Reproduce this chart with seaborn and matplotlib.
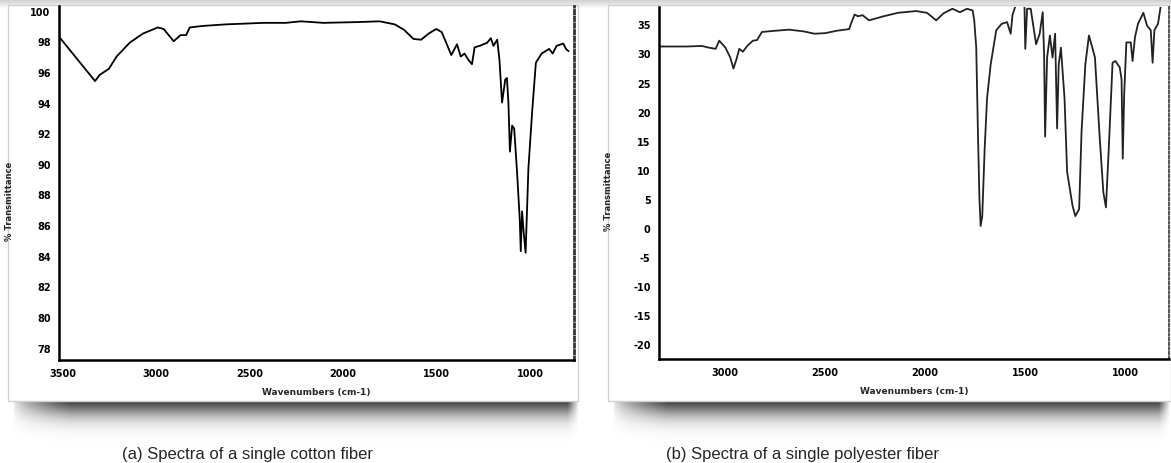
"""
FTIR spectra of single cotton and polyester fibers
"""
import numpy as np
import pandas as pd
import matplotlib
matplotlib.use('Agg')
import matplotlib.pyplot as plt
import seaborn as sns
from matplotlib.ticker import MultipleLocator

W, H = 1171, 464

# 1. DATA
cotton_wn = [3521, 3328, 3304, 3254, 3213, 3143, 3072, 2992, 2961, 2907, 2871, 2841,
             2821, 2751, 2629, 2428, 2307, 2227, 2106, 1925, 1805, 1724, 1675, 1624,
             1583, 1543, 1502, 1473, 1442, 1422, 1391, 1371, 1351, 1331, 1311, 1297,
             1270, 1230, 1210, 1196, 1176, 1164, 1150, 1133, 1124, 1116, 1108, 1096,
             1085, 1069, 1055, 1050, 1043, 1034, 1024, 1009, 989, 969, 938, 898,
             879, 858, 822, 808, 794]
cotton_t = [98.3, 95.4, 95.8, 96.2, 97.0, 97.9, 98.5, 98.9, 98.8, 98.0, 98.4, 98.4,
            98.9, 99.0, 99.1, 99.2, 99.2, 99.3, 99.2, 99.25, 99.3, 99.1, 98.75, 98.15,
            98.1, 98.5, 98.8, 98.6, 97.7, 97.1, 97.8, 97.0, 97.2, 96.8, 96.5, 97.6,
            97.7, 97.9, 98.2, 97.7, 98.1, 96.8, 94.0, 95.5, 95.6, 94.0, 90.8, 92.5,
            92.3, 89.3, 86.3, 84.3, 86.9, 85.5, 84.2, 89.7, 93.4, 96.6, 97.2, 97.5,
            97.2, 97.7, 97.85, 97.5, 97.35]

poly_wn = [3324, 3187, 3115, 3080, 3046, 3028, 2997, 2973, 2957, 2942, 2928, 2910,
           2888, 2860, 2839, 2815, 2752, 2679, 2606, 2552, 2498, 2443, 2379, 2370,
           2352, 2334, 2312, 2280, 2207, 2135, 2044, 1990, 1944, 1908, 1863, 1826,
           1790, 1762, 1754, 1744, 1735, 1728, 1722, 1714, 1702, 1690, 1672, 1644,
           1617, 1590, 1572, 1563, 1550, 1535, 1510, 1503, 1499, 1490, 1472, 1445,
           1427, 1412, 1405, 1400, 1390, 1376, 1363, 1350, 1340, 1332, 1321, 1303,
           1290, 1263, 1249, 1230, 1218, 1199, 1181, 1164, 1151, 1127, 1109, 1096,
           1082, 1063, 1049, 1027, 1018, 1012, 1005, 994, 972, 963, 951, 936,
           909, 891, 872, 863, 854, 836, 823, 815]
poly_t = [31.2, 31.2, 31.3, 31.0, 30.8, 32.2, 31.0, 29.3, 27.4, 29.0, 30.8, 30.3,
          31.3, 32.2, 32.3, 33.7, 33.9, 34.1, 33.8, 33.4, 33.5, 33.9, 34.2, 35.1,
          36.7, 36.4, 36.6, 35.7, 36.4, 37.0, 37.3, 37.0, 35.7, 36.9, 37.7, 37.1,
          37.7, 37.4, 35.7, 31.0, 15.4, 4.9, 0.3, 2.0, 13.6, 22.3, 28.1, 34.0,
          35.1, 35.4, 33.4, 36.6, 38.0, 40.0, 40.0, 38.0, 30.8, 37.7, 37.7, 31.6,
          33.4, 37.1, 29.9, 15.7, 29.3, 33.1, 29.3, 33.4, 17.1, 28.1, 31.0, 22.3,
          9.6, 3.8, 2.0, 3.2, 16.5, 28.1, 33.1, 31.0, 29.3, 15.4, 6.1, 3.5,
          13.6, 28.4, 28.7, 27.6, 25.5, 11.9, 22.9, 31.9, 31.9, 28.7, 32.8, 35.1,
          37.0, 34.8, 34.0, 28.4, 34.0, 35.1, 38.0, 40.0]

cotton_xticks = [3500, 3000, 2500, 2000, 1500, 1000]
cotton_yticks = list(range(78, 101, 2))
poly_xticks = [3000, 2500, 2000, 1500, 1000]
poly_yticks = list(range(-20, 36, 5))

captions = ['(a) Spectra of a single cotton fiber', '(b) Spectra of a single polyester fiber']

cotton = pd.DataFrame({'wn': cotton_wn, 't': cotton_t})
poly = pd.DataFrame({'wn': poly_wn, 't': poly_t})

# 2. FIGURE
sns.set_style('white')
plt.rcParams['font.family'] = ['DejaVu Sans']
plt.rcParams['axes.unicode_minus'] = False

fig = plt.figure(figsize=(W / 100, H / 100), dpi=100)
fig.patch.set_facecolor('white')


def fbox(l, t, r, b):
    return [l / W, 1 - b / H, (r - l) / W, (b - t) / H]


# background: paper boxes with a drop shadow
bg = fig.add_axes([0, 0, 1, 1], zorder=-10)
bg.axis('off')

top = np.linspace(0.80, 1.0, 12)[:, None] * np.ones((1, 10))
bg.imshow(np.dstack([top] * 3), extent=(0, W, 10, 0), aspect='auto', zorder=0)


def shadow(x0, x1, y0=398, y1=446):
    ys = np.linspace(0, 1, 60)[:, None]
    xs = np.linspace(0, 1, 300)[None, :]
    a = 0.9 * np.exp(-(ys * 2.6) ** 1.8)
    taper = np.clip(xs / 0.10, 0, 1) ** 0.6 * np.clip((1 - xs) / 0.02, 0, 1)
    rgba = np.zeros((60, 300, 4))
    rgba[..., :3] = 0.12
    rgba[..., 3] = a * taper
    bg.imshow(rgba, extent=(x0, x1, y1, y0), aspect='auto', zorder=1)


shadow(12, 580)
shadow(612, 1171)
for l, r in [(8, 578), (608, 1171)]:
    bg.add_patch(plt.Rectangle((l, 6), r - l, 396, facecolor='white',
                               edgecolor='#d0d0d0', lw=1.0, zorder=2))
bg.set_xlim(0, W); bg.set_ylim(H, 0)

ax1 = fig.add_axes(fbox(59, 7, 574, 361))
ax2 = fig.add_axes(fbox(659, 8, 1169, 360))

sns.lineplot(data=cotton, x='wn', y='t', ax=ax1, color='black', lw=1.3, sort=False)
sns.lineplot(data=poly, x='wn', y='t', ax=ax2, color='#222222', lw=1.3, sort=False)

ax1.set_xlim(3521, 765); ax1.set_ylim(77.2, 100.3)
ax2.set_xlim(3329, 781); ax2.set_ylim(-22.6, 38.0)
ax1.set_xticks(cotton_xticks); ax1.set_yticks(cotton_yticks)
ax2.set_xticks(poly_xticks); ax2.set_yticks(poly_yticks)

for ax, minor_y in [(ax1, 0.5), (ax2, 1.25)]:
    ax.patch.set_alpha(0)
    ax.xaxis.set_minor_locator(MultipleLocator(100))
    ax.yaxis.set_minor_locator(MultipleLocator(minor_y))
    ax.tick_params(which='major', direction='out', length=3, width=1.2, pad=3,
                   labelsize=7, colors='black')
    ax.tick_params(which='minor', direction='out', length=1.5, width=1.0)
    for lab in ax.get_xticklabels() + ax.get_yticklabels():
        lab.set_fontweight('bold')
    ax.spines['top'].set_visible(False)
    for s in ['left', 'bottom']:
        ax.spines[s].set_linewidth(1.8)
        ax.spines[s].set_color('black')
    ax.spines['right'].set_linestyle((0, (1.2, 1.2)))
    ax.set_xlabel('Wavenumbers (cm-1)', fontsize=6.5, fontweight='bold', labelpad=6)
    ax.set_ylabel('% Transmittance', fontsize=6, fontweight='bold')
    ax.grid(False)

ax1.yaxis.set_label_coords(-0.087, 0.45)
ax2.yaxis.set_label_coords(-0.09, 0.48)
ax1.spines['right'].set_linewidth(2.0)
ax1.spines['right'].set_color('#333333')
ax2.spines['right'].set_linewidth(1.4)
ax2.spines['right'].set_color('#555555')

fig.text(247 / W, 1 - 455 / H, captions[0], ha='center', va='center',
         fontsize=12, family=['Liberation Sans', 'DejaVu Sans'])
fig.text(803 / W, 1 - 455 / H, captions[1], ha='center', va='center',
         fontsize=12, family=['Liberation Sans', 'DejaVu Sans'])

plt.savefig('out.png', dpi=100)
plt.close()
